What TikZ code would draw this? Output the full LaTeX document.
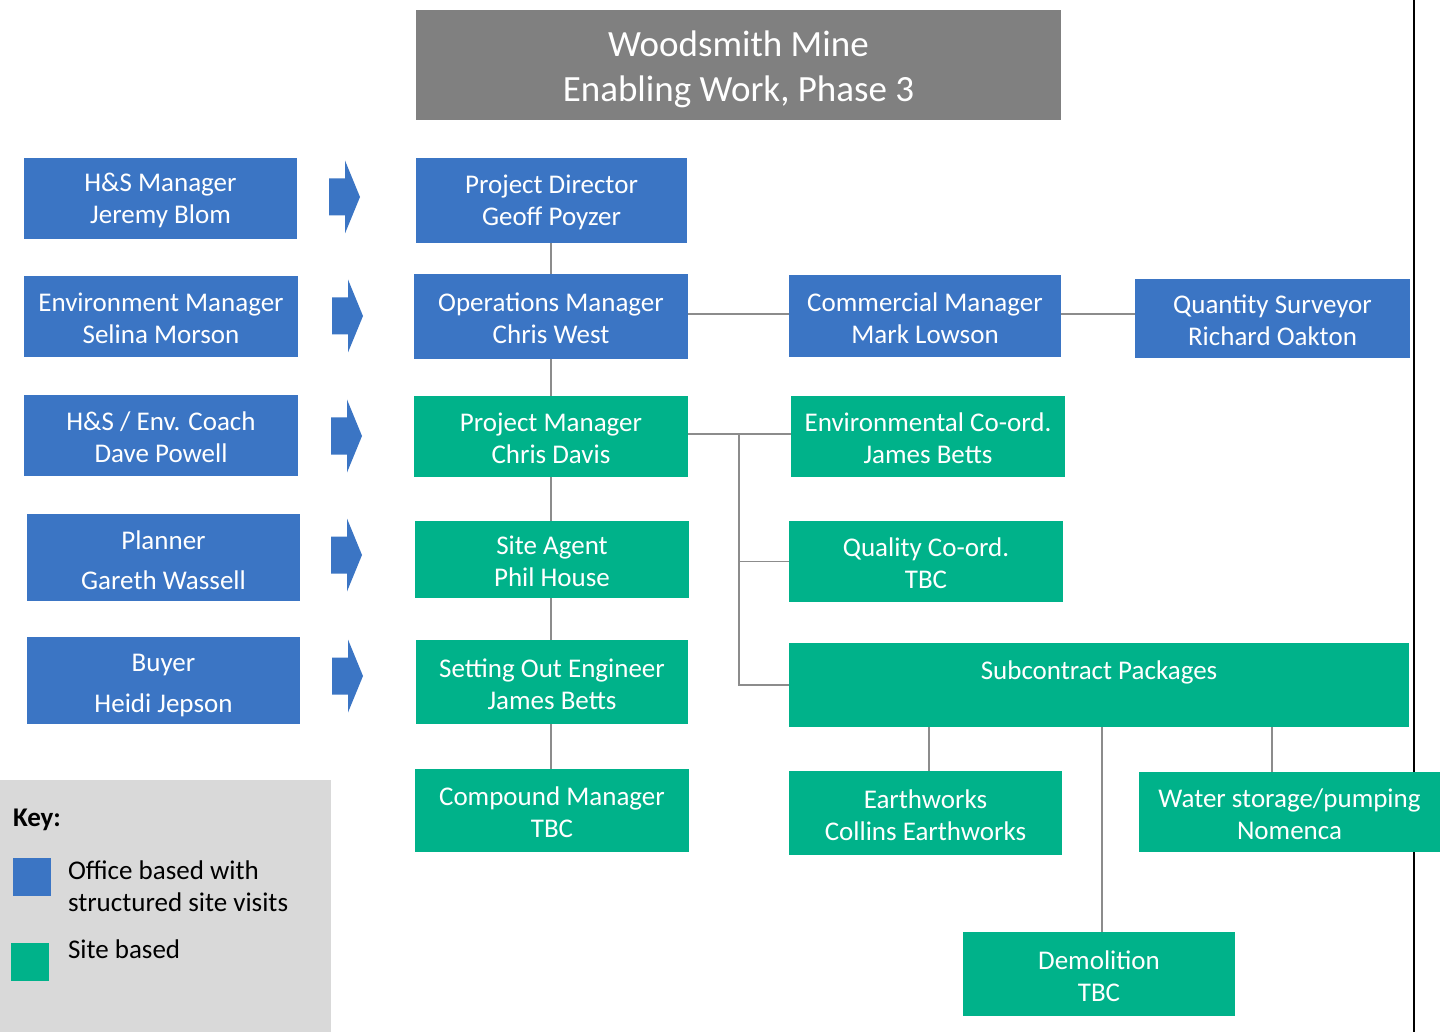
\documentclass[tikz,border=0pt]{standalone}
\usepackage{fontspec}
\setmainfont{Carlito}
\definecolor{officeblue}{RGB}{59,117,196}
\definecolor{sitegreen}{RGB}{0,178,138}
\definecolor{titlegray}{RGB}{128,128,128}
\definecolor{keygray}{RGB}{217,217,217}
\definecolor{linegray}{RGB}{140,140,140}
\tikzset{
  box/.style={rectangle, inner sep=0pt, outer sep=0pt},
  bluebox/.style={box, fill=officeblue},
  greenbox/.style={box, fill=sitegreen},
  boxtext/.style={inner sep=0pt, outer sep=0pt, text=white, align=center,
              font=\fontsize{27}{32}\selectfont, yshift=-2pt},
  wh/.style 2 args={minimum width=#1pt, minimum height=#2pt},
  link/.style={draw=linegray, line width=1.5pt},
  keytext/.style={inner sep=0pt, outer sep=0pt, text=black, align=left,
              font=\fontsize{27}{32}\selectfont},
}
\newcommand\blockarrowat[2]{%
  \fill[officeblue] (#1,-#2+18.5) -- (#1+16,-#2+18.5) -- (#1+16,-#2+36.5)
    -- (#1+31,-#2) -- (#1+16,-#2-36.5) -- (#1+16,-#2-18.5) -- (#1,-#2-18.5) -- cycle;}
\begin{document}
\begin{tikzpicture}[x=1pt,y=1pt]
\useasboundingbox (0,0) rectangle (1444,-1032);
\fill[white] (0,0) rectangle (1444,-1032);

% right border line
\draw[black, line width=2.5pt] (1414,0) -- (1414,-1032);

% title
\node[box, fill=titlegray, wh={645}{110},
  label={[boxtext, font=\fontsize{37}{45}\selectfont, yshift=-2pt]center:{Woodsmith Mine\\Enabling Work, Phase 3}}]
  (title) at (738.5,-65) {};

% left column
\node[bluebox, wh={273}{81}, label={[boxtext]center:{H\&S Manager\\Jeremy Blom}}] (hs) at (160.5,-198.5) {};
\node[bluebox, wh={274}{81}, label={[boxtext]center:{Environment Manager\\Selina Morson}}] (env) at (161,-316.5) {};
\node[bluebox, wh={274}{81}, label={[boxtext]center:{H\&S / Env. Coach\\Dave Powell}}] (coach) at (161,-435.5) {};
\node[bluebox, wh={273}{87}, label={[boxtext, font=\fontsize{27}{40}\selectfont, yshift=-1pt]center:{Planner\\Gareth Wassell}}] (plan) at (163.5,-557.5) {};
\node[bluebox, wh={273}{87}, label={[boxtext, font=\fontsize{27}{41}\selectfont, yshift=-3pt]center:{Buyer\\Heidi Jepson}}] (buy) at (163.5,-680.5) {};

% block arrows
\blockarrowat{329}{197}
\blockarrowat{332}{316}
\blockarrowat{331}{436}
\blockarrowat{331}{555}
\blockarrowat{332}{676}

% middle column
\node[bluebox, wh={271}{85}, label={[boxtext]center:{Project Director\\Geoff Poyzer}}] (pd) at (551.5,-200.5) {};
\node[bluebox, wh={274}{85}, label={[boxtext]center:{Operations Manager\\Chris West}}] (om) at (551,-316.5) {};
\node[greenbox, wh={274}{81}, label={[boxtext]center:{Project Manager\\Chris Davis}}] (pm) at (551,-436.5) {};
\node[greenbox, wh={274}{77}, label={[boxtext]center:{Site Agent\\Phil House}}] (sa) at (552,-559.5) {};
\node[greenbox, wh={272}{84}, label={[boxtext]center:{Setting Out Engineer\\James Betts}}] (soe) at (552,-682) {};
\node[greenbox, wh={274}{83}, label={[boxtext]center:{Compound Manager\\TBC}}] (cpm) at (552,-810.5) {};

% right part
\node[bluebox, wh={272}{82}, label={[boxtext]center:{Commercial Manager\\Mark Lowson}}] (com) at (925,-316) {};
\node[bluebox, wh={275}{79}, label={[boxtext]center:{Quantity Surveyor\\Richard Oakton}}] (qs) at (1272.5,-318.5) {};
\node[greenbox, wh={274}{81}, label={[boxtext]center:{Environmental Co-ord.\\James Betts}}] (ec) at (928,-436.5) {};
\node[greenbox, wh={274}{81}, label={[boxtext]center:{Quality Co-ord.\\TBC}}] (qc) at (926,-561.5) {};
\node[greenbox, wh={620}{84}, label={[boxtext, yshift=15pt]center:{Subcontract Packages}}] (sp) at (1099,-685) {};
\node[greenbox, wh={273}{84}, label={[boxtext]center:{Earthworks\\Collins Earthworks}}] (ew) at (925.5,-813) {};
\node[greenbox, wh={301}{80}, label={[boxtext]center:{Water storage/pumping\\Nomenca}}] (ws) at (1289.5,-812) {};
\node[greenbox, wh={272}{84}, label={[boxtext]center:{Demolition\\TBC}}] (demo) at (1099,-974) {};

% connectors
\draw[link] (pd.south -| 551,0) -- (om.north -| 551,0);
\draw[link] (om.south -| 551,0) -- (pm.north -| 551,0);
\draw[link] (pm.south -| 551,0) -- (sa.north -| 551,0);
\draw[link] (sa.south -| 551,0) -- (soe.north -| 551,0);
\draw[link] (soe.south -| 551,0) -- (cpm.north -| 551,0);
\draw[link] (om.east |- 0,-314) -- (com.west |- 0,-314);
\draw[link] (com.east |- 0,-314) -- (qs.west |- 0,-314);
\coordinate (bus) at (739,-434);
\draw[link] (pm.east |- bus) -- (ec.west |- bus);
\draw[link] (bus) |- (qc.west);
\draw[link] (bus) |- (sp.west);
\draw[link] (sp.south -| 929,0) -- (ew.north -| 929,0);
\draw[link] (sp.south -| 1102,0) -- (demo.north -| 1102,0);
\draw[link] (sp.south -| 1272,0) -- (ws.north -| 1272,0);

% key
\fill[keygray] (0,-780) rectangle (331,-1032);
\node[keytext, anchor=west, font=\bfseries\fontsize{27}{32}\selectfont] (keyt) at (13,-820) {Key:};
\node[rectangle, fill=officeblue, minimum size=38pt, inner sep=0pt, outer sep=0pt] (kblue) at (32,-877) {};
\node[rectangle, fill=sitegreen, minimum size=38pt, inner sep=0pt, outer sep=0pt] (kgreen) at (30,-962) {};
\node[keytext, anchor=west] (koff) at (68,-886) {Office based with\\structured site visits};
\node[keytext, anchor=west] (ksite) at (68,-949) {Site based};
\end{tikzpicture}
\end{document}
